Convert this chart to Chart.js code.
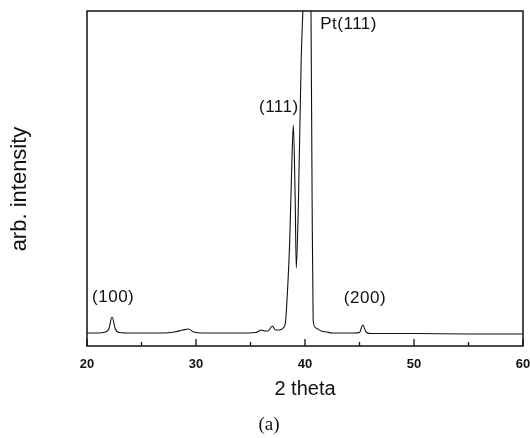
<!DOCTYPE html>
<html>
<head>
<meta charset="utf-8">
<script src="https://cdn.jsdelivr.net/npm/chart.js@4.4.0/dist/chart.umd.min.js"></script>
<style>
  html, body { margin: 0; padding: 0; background: #fff; }
  #wrap { width: 530px; height: 438px; }
</style>
</head>
<body>
<div id="wrap"><canvas id="xrd_chart" width="530" height="438"></canvas></div>
<script>
// 2 theta (deg) and intensity (arb.)
const twoTheta = [20, 21, 21.7, 22.0, 22.3, 22.6, 23.0, 24, 25, 26, 27, 28, 28.8, 29.3, 29.8, 30.5,
  32, 34, 35.5, 36.0, 36.3, 36.6, 37.0, 37.3, 37.7, 38.0, 38.2, 38.35, 38.6, 38.8, 38.93,
  39.1, 39.2, 39.4, 39.65, 39.8, 40.0, 40.3, 40.55, 40.65, 40.75, 41.0, 41.5, 42.0, 42.5,
  43.5, 44.5, 45.0, 45.3, 45.6, 46.0, 47, 50, 55, 60];
const intensity = [13, 13, 14, 17, 29, 17, 13.5, 13, 13, 13, 13, 14, 16, 17, 14, 13,
  13, 13, 13.5, 16, 15, 15, 20, 16, 16, 18, 23, 46, 106, 186, 221,
  146, 78, 146, 286, 335, 420, 420, 335, 150, 25, 18, 15, 14, 13,
  13, 13, 13.5, 21, 14, 12.5, 12.5, 12.5, 12, 12];

const xMajor = [20, 30, 40, 50, 60];
const xMinor = [25, 35, 45, 55];

const peakLabels = ['(100)', '(111)', 'Pt(111)', '(200)'];
const peakLabelX = [22.4, 37.6, 41.4, 45.5];
const peakLabelY = [49, 239, 322, 48];

const points = twoTheta.map((t, i) => ({ x: t, y: intensity[i] }));

const framePlugin = {
  id: 'frame',
  afterDraw(chart) {
    const c = chart.ctx;
    const a = chart.chartArea;
    const xs = chart.scales.x;
    const ys = chart.scales.y;
    c.save();
    c.strokeStyle = '#111';
    c.lineWidth = 1.5;
    c.strokeRect(a.left, a.top, a.right - a.left, a.bottom - a.top);
    // inward ticks on the bottom axis
    c.lineWidth = 1.3;
    xMajor.forEach(v => {
      const px = xs.getPixelForValue(v);
      c.beginPath(); c.moveTo(px, a.bottom); c.lineTo(px, a.bottom - 7); c.stroke();
    });
    xMinor.forEach(v => {
      const px = xs.getPixelForValue(v);
      c.beginPath(); c.moveTo(px, a.bottom); c.lineTo(px, a.bottom - 4); c.stroke();
    });
    // peak labels
    c.fillStyle = '#111';
    c.font = '17px "Liberation Sans", Arial, sans-serif';
    c.letterSpacing = '0.5px';
    c.textBaseline = 'middle';
    peakLabels.forEach((s, i) => {
      c.textAlign = s.startsWith('Pt') ? 'left' : 'center';
      c.fillText(s, xs.getPixelForValue(peakLabelX[i]), ys.getPixelForValue(peakLabelY[i]));
    });
    c.letterSpacing = '0px';
    // axis titles
    c.textAlign = 'center';
    c.font = '20px "Liberation Sans", Arial, sans-serif';
    c.fillText('2 theta', (a.left + a.right) / 2, 389);
    c.font = '19px "Liberation Serif", "Times New Roman", serif';
    c.fillText('(a)', 269, 425);
    c.translate(20, 189);
    c.rotate(-Math.PI / 2);
    c.font = '22px "Liberation Sans", Arial, sans-serif';
    c.fillText('arb. intensity', 0, 0);
    c.restore();
  }
};

const ctx = document.getElementById('xrd_chart');

const xrd_chart = new Chart(ctx, {
  type: 'line',
  data: {
    datasets: [{
      data: points,
      borderColor: '#111',
      borderWidth: 1.1,
      pointRadius: 0,
      fill: false,
      cubicInterpolationMode: 'monotone'
    }]
  },
  options: {
    responsive: false,
    animation: false,
    layout: { padding: { left: 87, right: 7, top: 11, bottom: 62 } },
    plugins: { legend: { display: false }, tooltip: { enabled: false } },
    scales: {
      x: {
        type: 'linear',
        min: 20, max: 60,
        grid: { display: false },
        border: { display: false },
        ticks: {
          stepSize: 10,
          color: '#111',
          padding: 3,
          maxRotation: 0,
          font: { family: '"Liberation Sans", Arial, sans-serif', size: 13, weight: 'bold' }
        },
        afterFit(scale) {
          scale.height = 30;
          scale.paddingLeft = 0;
          scale.paddingRight = 0;
        }
      },
      y: {
        display: false,
        min: 0, max: 335
      }
    }
  },
  plugins: [framePlugin]
});
</script>
</body>
</html>
